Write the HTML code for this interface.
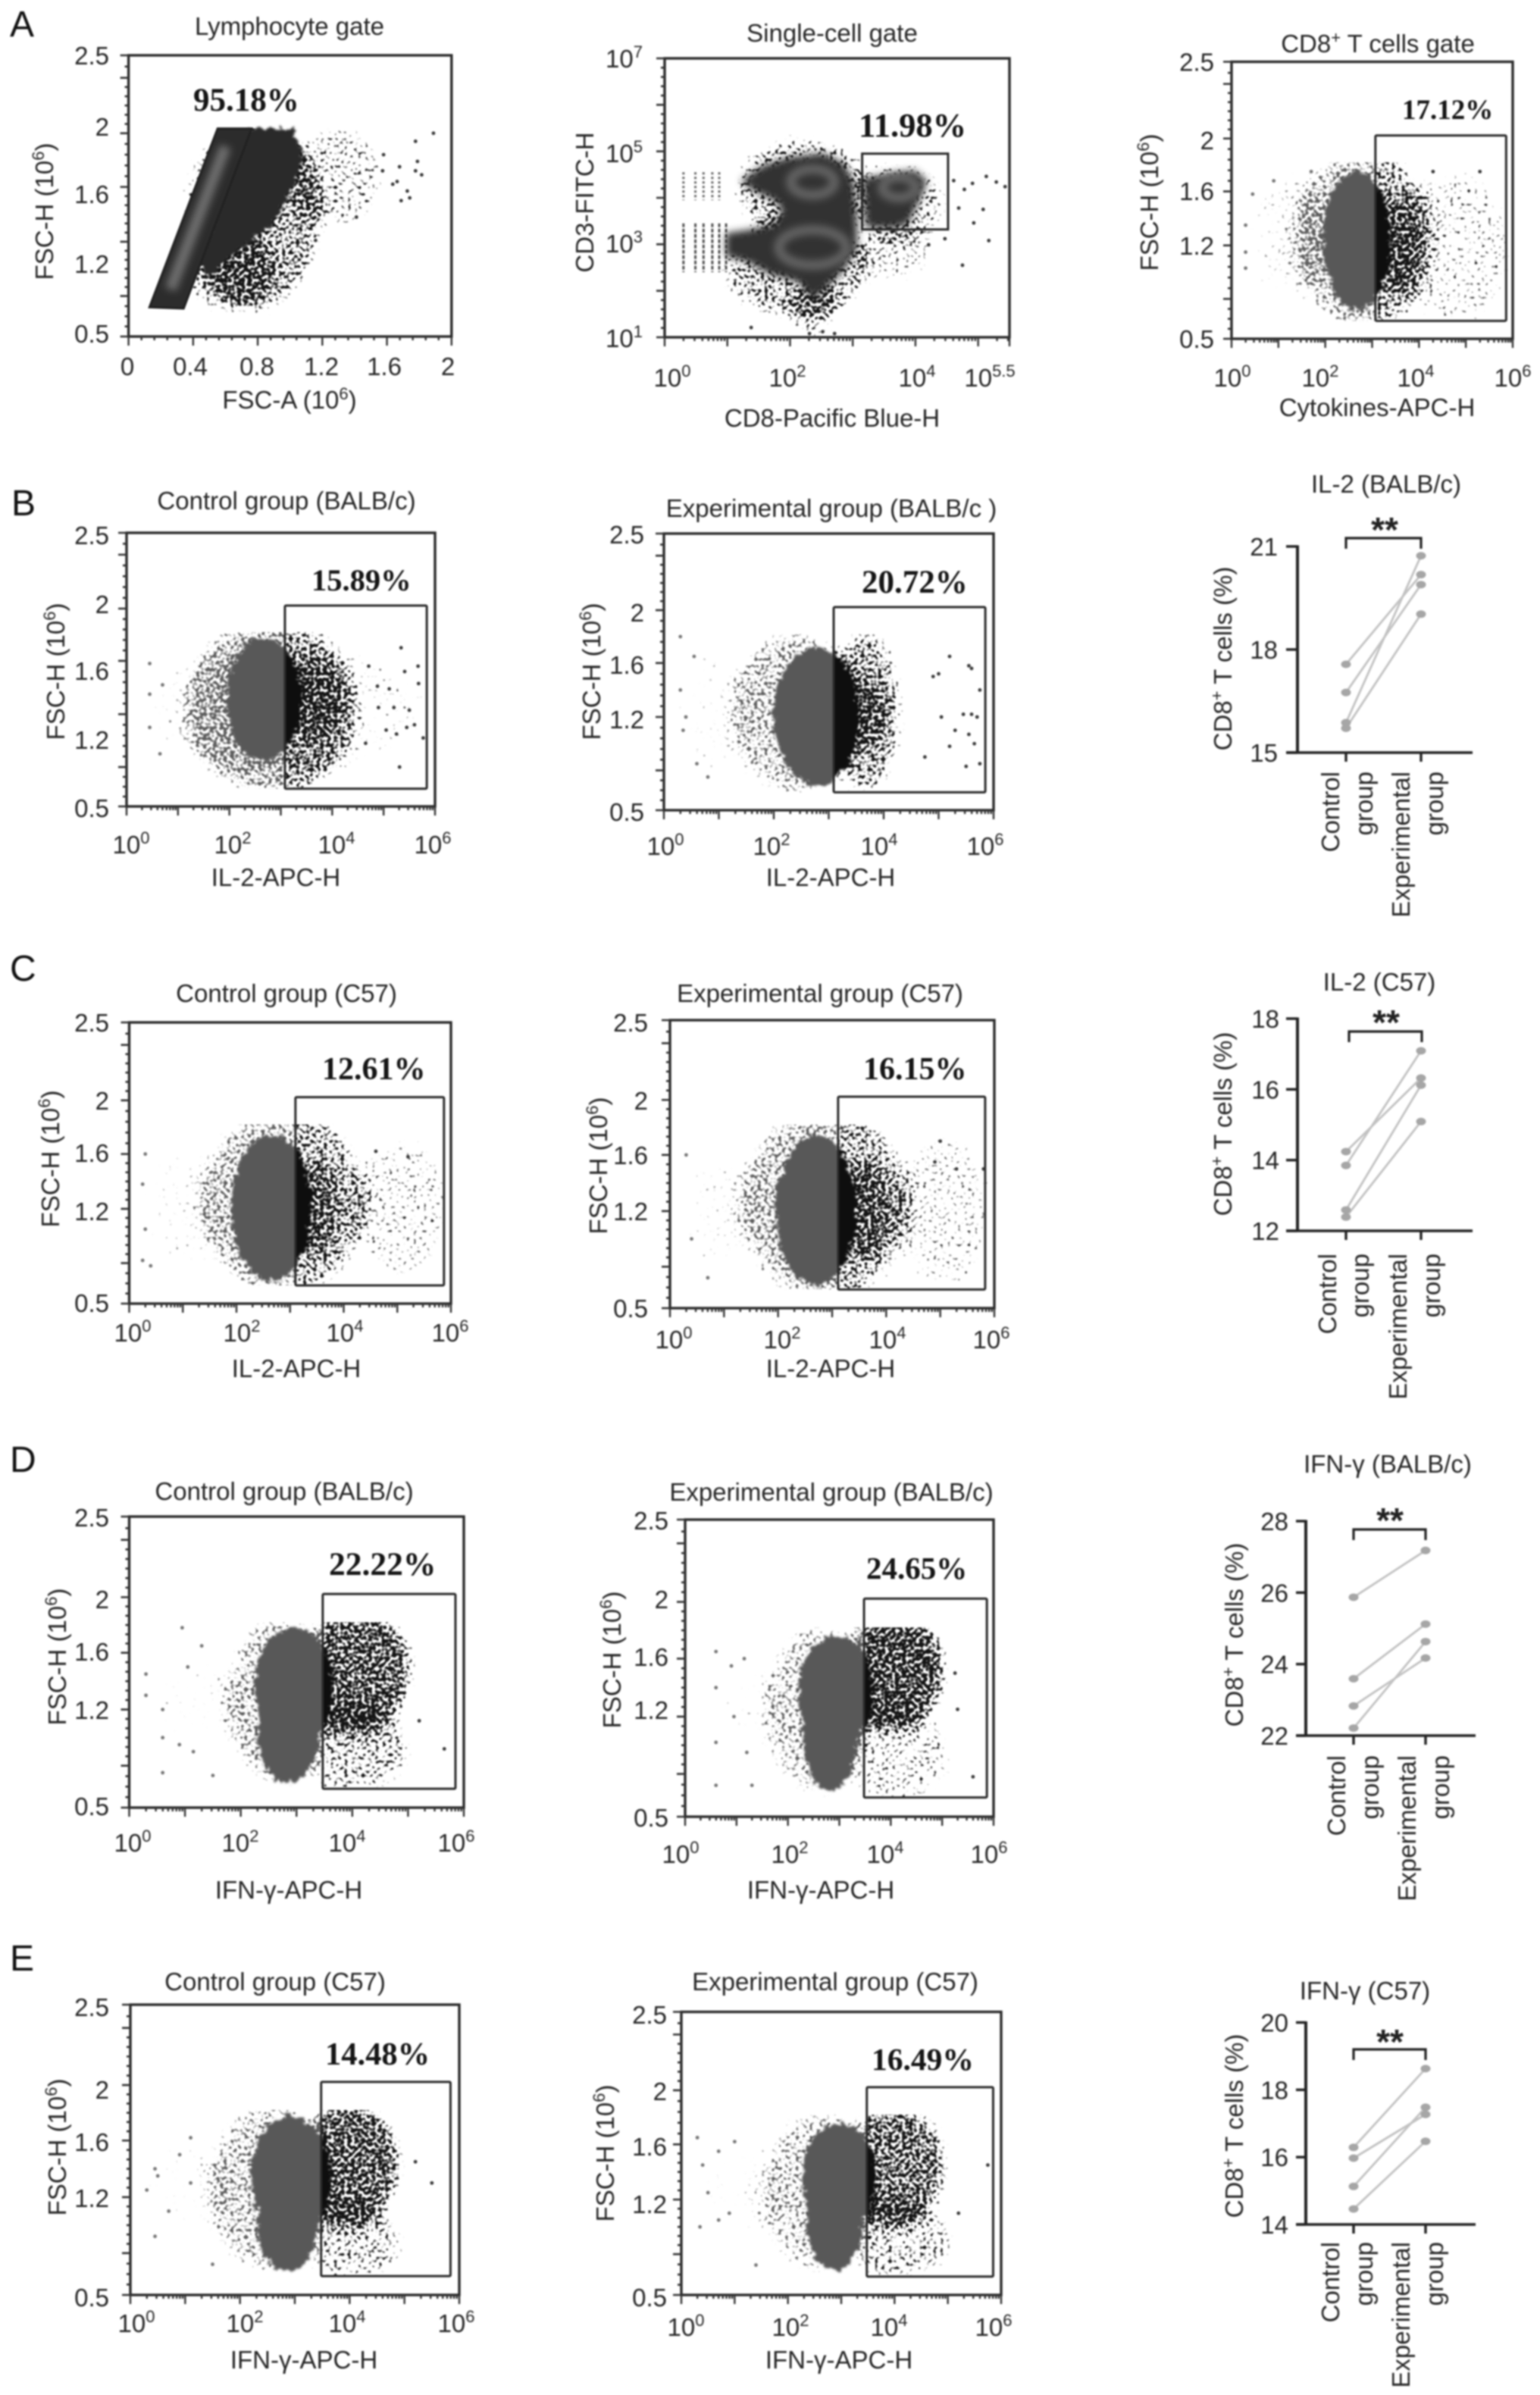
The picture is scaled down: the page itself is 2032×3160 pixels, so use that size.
<!DOCTYPE html>
<html lang="en">
<head>
<meta charset="utf-8">
<title>CD8+ T cell flow cytometry panels</title>
<style>
html,body{margin:0;padding:0;background:#fff;}
svg{display:block;}
text{font-family:"Liberation Sans",sans-serif;font-size:33px;fill:#262626;}
.letter{font-size:48px;fill:#111;}
.pct{font-family:"Liberation Serif",serif;font-weight:bold;fill:#151515;}
.mid{text-anchor:middle;}
.endt{text-anchor:end;}
.stars{font-weight:bold;font-size:46px;text-anchor:middle;fill:#222;}
#root{filter:blur(1px);}
</style>
</head>
<body>
<svg xmlns="http://www.w3.org/2000/svg" width="2032" height="3160" viewBox="0 0 2032 3160">
<defs id="defs">
<filter id="speck-gray" x="-25%" y="-25%" width="150%" height="150%" color-interpolation-filters="sRGB">
  <feGaussianBlur in="SourceAlpha" stdDeviation="11" result="d"/>
  <feTurbulence type="fractalNoise" baseFrequency="0.22" numOctaves="1" seed="7" result="t"/>
  <feColorMatrix in="t" type="matrix" values="0 0 0 0 0  0 0 0 0 0  0 0 0 0 0  1 0 0 0 0" result="n"/>
  <feComposite in="d" in2="n" operator="arithmetic" k1="0" k2="0.62" k3="1" k4="-0.88" result="s"/>
  <feComponentTransfer in="s" result="m"><feFuncA type="linear" slope="6"/></feComponentTransfer>
  <feFlood flood-color="#5e5e5e" result="c"/>
  <feComposite in="c" in2="m" operator="in"/>
</filter>
<filter id="speck-black" x="-25%" y="-25%" width="150%" height="150%" color-interpolation-filters="sRGB">
  <feGaussianBlur in="SourceAlpha" stdDeviation="9" result="d"/>
  <feTurbulence type="fractalNoise" baseFrequency="0.22" numOctaves="1" seed="11" result="t"/>
  <feColorMatrix in="t" type="matrix" values="0 0 0 0 0  0 0 0 0 0  0 0 0 0 0  1 0 0 0 0" result="n"/>
  <feComposite in="d" in2="n" operator="arithmetic" k1="0" k2="0.62" k3="1" k4="-0.88" result="s"/>
  <feComponentTransfer in="s" result="m"><feFuncA type="linear" slope="6"/></feComponentTransfer>
  <feFlood flood-color="#141414" result="c"/>
  <feComposite in="c" in2="m" operator="in"/>
</filter>
<filter id="core-soft" x="-20%" y="-20%" width="140%" height="140%" color-interpolation-filters="sRGB">
  <feTurbulence type="fractalNoise" baseFrequency="0.13" numOctaves="2" seed="3" result="w"/>
  <feDisplacementMap in="SourceGraphic" in2="w" scale="16" xChannelSelector="R" yChannelSelector="G" result="r"/>
  <feGaussianBlur in="r" stdDeviation="1.2"/>
</filter>
<filter id="ring-soft" x="-30%" y="-30%" width="160%" height="160%"><feGaussianBlur stdDeviation="5"/></filter>
</defs>
<rect width="2032" height="3160" fill="#fff"/>
<g id="root">

<text class="letter" x="13" y="48">A</text>
<text class="letter" x="15" y="680">B</text>
<text class="letter" x="13" y="1294">C</text>
<text class="letter" x="13" y="1942">D</text>
<text class="letter" x="13" y="2600">E</text>

<!-- Row A -->
<g>
  <g id="a1-marks"></g>
  <text class="mid" x="382" y="46">Lymphocyte gate</text>
  <text class="pct" style="font-size:43px" x="255" y="146">95.18%</text>
  <text class="mid" x="382" y="539">FSC-A (10<tspan font-size="22" dy="-12">6</tspan><tspan dy="12">)</tspan></text>
  <text class="mid" transform="translate(59,279) rotate(-90)" y="11">FSC-H (10<tspan font-size="22" dy="-12">6</tspan><tspan dy="12">)</tspan></text>
</g>
<g>
  <g id="a2-marks"></g>
  <text class="mid" x="1098" y="55">Single-cell gate</text>
  <text class="pct" style="font-size:44.5px" x="1133" y="180">11.98%</text>
  <text class="mid" x="1098" y="563">CD8-Pacific Blue-H</text>
  <text class="mid" transform="translate(772,267) rotate(-90)" y="11">CD3-FITC-H</text>
</g>
<g>
  <g id="a3-marks"></g>
  <text class="mid" x="1818" y="69">CD8<tspan font-size="22" dy="-12">+</tspan><tspan dy="12"> T cells gate</tspan></text>
  <text class="pct" style="font-size:37px" x="1850" y="157">17.12%</text>
  <text class="mid" x="1817" y="549">Cytokines-APC-H</text>
  <text class="mid" transform="translate(1517,267) rotate(-90)" y="11">FSC-H (10<tspan font-size="22" dy="-12">6</tspan><tspan dy="12">)</tspan></text>
</g>

<!-- Row B -->
<g>
  <g id="b1-marks"></g>
  <text class="mid" x="378" y="672">Control group (BALB/c)</text>
  <text class="pct" style="font-size:40.5px" x="411" y="779">15.89%</text>
  <text class="mid" x="364" y="1169">IL-2-APC-H</text>
  <text class="mid" transform="translate(74,886) rotate(-90)" y="11">FSC-H (10<tspan font-size="22" dy="-12">6</tspan><tspan dy="12">)</tspan></text>
</g>
<g>
  <g id="b2-marks"></g>
  <text class="mid" x="1097" y="682">Experimental group (BALB/c )</text>
  <text class="pct" style="font-size:43px" x="1137" y="782">20.72%</text>
  <text class="mid" x="1096" y="1169">IL-2-APC-H</text>
  <text class="mid" transform="translate(781,886) rotate(-90)" y="11">FSC-H (10<tspan font-size="22" dy="-12">6</tspan><tspan dy="12">)</tspan></text>
</g>

<!-- Row C -->
<g>
  <g id="c1-marks"></g>
  <text class="mid" x="378" y="1322">Control group (C57)</text>
  <text class="pct" style="font-size:42px" x="425" y="1424">12.61%</text>
  <text class="mid" x="391" y="1817">IL-2-APC-H</text>
  <text class="mid" transform="translate(67,1529) rotate(-90)" y="11">FSC-H (10<tspan font-size="22" dy="-12">6</tspan><tspan dy="12">)</tspan></text>
</g>
<g>
  <g id="c2-marks"></g>
  <text class="mid" x="1082" y="1322">Experimental group (C57)</text>
  <text class="pct" style="font-size:42px" x="1139" y="1424">16.15%</text>
  <text class="mid" x="1096" y="1817">IL-2-APC-H</text>
  <text class="mid" transform="translate(790,1538) rotate(-90)" y="11">FSC-H (10<tspan font-size="22" dy="-12">6</tspan><tspan dy="12">)</tspan></text>
</g>

<!-- Row D -->
<g>
  <g id="d1-marks"></g>
  <text class="mid" x="375" y="1979">Control group (BALB/c)</text>
  <text class="pct" style="font-size:43.5px" x="434" y="2078">22.22%</text>
  <text class="mid" x="381" y="2505">IFN-γ-APC-H</text>
  <text class="mid" transform="translate(76,2186) rotate(-90)" y="11">FSC-H (10<tspan font-size="22" dy="-12">6</tspan><tspan dy="12">)</tspan></text>
</g>
<g>
  <g id="d2-marks"></g>
  <text class="mid" x="1097" y="1980">Experimental group (BALB/c)</text>
  <text class="pct" style="font-size:41px" x="1143" y="2083">24.65%</text>
  <text class="mid" x="1083" y="2505">IFN-γ-APC-H</text>
  <text class="mid" transform="translate(808,2190) rotate(-90)" y="11">FSC-H (10<tspan font-size="22" dy="-12">6</tspan><tspan dy="12">)</tspan></text>
</g>

<!-- Row E -->
<g>
  <g id="e1-marks"></g>
  <text class="mid" x="363" y="2626">Control group (C57)</text>
  <text class="pct" style="font-size:42.5px" x="429" y="2724">14.48%</text>
  <text class="mid" x="401" y="3125">IFN-γ-APC-H</text>
  <text class="mid" transform="translate(76,2833) rotate(-90)" y="11">FSC-H (10<tspan font-size="22" dy="-12">6</tspan><tspan dy="12">)</tspan></text>
</g>
<g>
  <g id="e2-marks"></g>
  <text class="mid" x="1102" y="2626">Experimental group (C57)</text>
  <text class="pct" style="font-size:41.5px" x="1150" y="2731">16.49%</text>
  <text class="mid" x="1107" y="3125">IFN-γ-APC-H</text>
  <text class="mid" transform="translate(799,2841) rotate(-90)" y="11">FSC-H (10<tspan font-size="22" dy="-12">6</tspan><tspan dy="12">)</tspan></text>
</g>

<!-- Paired charts -->
<g>
  <g id="lb-marks"></g>
  <text class="mid" x="1829" y="650">IL-2 (BALB/c)</text>
  <text class="stars" x="1827" y="715">**</text>
  <text class="mid" transform="translate(1614,869) rotate(-90)" y="11">CD8<tspan font-size="22" dy="-12">+</tspan><tspan dy="12"> T cells (%)</tspan></text>
  <text class="endt" transform="translate(1756,1018) rotate(-90)" y="11">Control</text>
  <text class="endt" transform="translate(1803,1018) rotate(-90)" y="8">group</text>
  <text class="endt" transform="translate(1849,1018) rotate(-90)" y="11">Experimental</text>
  <text class="endt" transform="translate(1896,1018) rotate(-90)" y="8">group</text>
</g>
<g>
  <g id="lc-marks"></g>
  <text class="mid" x="1820" y="1307">IL-2 (C57)</text>
  <text class="stars" x="1829" y="1365">**</text>
  <text class="mid" transform="translate(1614,1483) rotate(-90)" y="11">CD8<tspan font-size="22" dy="-12">+</tspan><tspan dy="12"> T cells (%)</tspan></text>
  <text class="endt" transform="translate(1752,1654) rotate(-90)" y="11">Control</text>
  <text class="endt" transform="translate(1798,1654) rotate(-90)" y="8">group</text>
  <text class="endt" transform="translate(1845,1654) rotate(-90)" y="11">Experimental</text>
  <text class="endt" transform="translate(1892,1654) rotate(-90)" y="8">group</text>
</g>
<g>
  <g id="ld-marks"></g>
  <text class="mid" x="1831" y="1943">IFN-γ (BALB/c)</text>
  <text class="stars" x="1834" y="2022">**</text>
  <text class="mid" transform="translate(1629,2157) rotate(-90)" y="11">CD8<tspan font-size="22" dy="-12">+</tspan><tspan dy="12"> T cells (%)</tspan></text>
  <text class="endt" transform="translate(1764,2316) rotate(-90)" y="11">Control</text>
  <text class="endt" transform="translate(1811,2316) rotate(-90)" y="8">group</text>
  <text class="endt" transform="translate(1857,2316) rotate(-90)" y="11">Experimental</text>
  <text class="endt" transform="translate(1904,2316) rotate(-90)" y="8">group</text>
</g>
<g>
  <g id="le-marks"></g>
  <text class="mid" x="1801" y="2638">IFN-γ (C57)</text>
  <text class="stars" x="1834" y="2710">**</text>
  <text class="mid" transform="translate(1629,2805) rotate(-90)" y="11">CD8<tspan font-size="22" dy="-12">+</tspan><tspan dy="12"> T cells (%)</tspan></text>
  <text class="endt" transform="translate(1756,2958) rotate(-90)" y="11">Control</text>
  <text class="endt" transform="translate(1803,2958) rotate(-90)" y="8">group</text>
  <text class="endt" transform="translate(1849,2958) rotate(-90)" y="11">Experimental</text>
  <text class="endt" transform="translate(1896,2958) rotate(-90)" y="8">group</text>
</g>
</g>
</svg>

<script>
/* ---------- axis data ---------- */
const fscTickValues = [2.5, 2, 1.6, 1.2, 0.5];
const fscAxisKnots = [2.5, 2, 1.6, 1.2, 0.8, 0.5];
const decadeTickLabels = [0, 2, 4, 6];
const fscLinearTicks = [0, 0.4, 0.8, 1.2, 1.6, 2];
const cd3DecadeLabels = [7, 5, 3, 1];
const cd8DecadeLabels = ['0', '2', '4', '5.5'];

/* ---------- flow populations: density ellipses [xLo, xHi, yLo, yHi, density] ---------- */
const a1Cloud = [[0.35,1.2,0.68,2.1,0.66],[1.0,1.58,1.3,2.05,0.5],[0.35,0.9,0.68,1.3,0.55]];
const a1Events = [[1.888,2.0],[1.777,1.94],[1.789,1.79],[1.777,1.72],[1.815,1.69],[1.678,1.75],[1.579,1.84],[1.573,1.72],[1.663,1.64],[1.636,1.62],[1.726,1.57],[1.741,1.52],[1.688,1.5],[1.411,1.38],[1.158,1.21],[0.815,0.82]];
const a1GatePolygon = [[0.13,0.717],[0.552,2.03],[0.762,2.03],[0.341,0.708]];
const a1DensePolygon = [[0.44,1.09],[0.5,1.26],[0.66,1.78],[0.74,2.03],[1.015,2.03],[1.088,1.82],[1.015,1.58],[0.888,1.33],[0.762,1.2],[0.636,1.11],[0.488,0.92]];
const a1Ridge = [[0.26,0.85],[0.6,1.9]];

const a2Cloud = [[1.1,3.3,3.1,5.3,0.62],[0.9,3.3,1.4,3.6,0.62],[3.0,4.5,3.0,4.8,0.56],[2.0,2.8,0.95,2.2,0.52],[3.0,4.3,2.2,3.4,0.46]];
const a2Events = [[4.61,4.37],[4.78,4.18],[4.91,4.31],[5.13,4.46],[5.29,4.34],[5.43,4.24],[4.69,3.78],[5.08,3.75],[4.93,3.46],[4.47,3.12],[5.17,3.08],[4.75,2.55],[4.21,2.99],[1.38,1.21],[2.52,1.12],[2.71,1.08],[2.31,1.08]];
const a2LeftPolygon = [[0.977,3.24],[1.33,3.31],[1.764,3.43],[1.873,3.74],[1.764,3.93],[1.384,4.18],[1.221,4.37],[1.547,4.68],[1.98,4.87],[2.52,4.96],[2.85,4.75],[3.01,4.37],[3.07,3.49],[3.07,2.93],[2.85,2.43],[2.52,1.99],[2.36,1.8],[2.14,2.18],[1.656,2.37],[1.33,2.62],[0.977,2.74]];
const a2RightPolygon = [[3.165,4.43],[3.556,4.5],[3.99,4.59],[4.18,4.37],[4.1,4.06],[3.88,3.43],[3.61,3.34],[3.2,3.37]];
const a2Rings = [[2.36,4.34,0.35,0.28],[2.36,2.93,0.54,0.38],[3.74,4.22,0.27,0.22]];
const a2LowColumns = [0.3,0.49,0.62,0.76,0.87,0.98];
const a2HighColumns = [0.3,0.49,0.62,0.76,0.87];
const a2Gate = [3.15,4.52,3.32,4.95];

const a3Core = [[1.95,3.4,0.72,1.75]];
const a3Cloud = [[1.3,4.3,0.55,1.95,0.64],[3.5,6.0,0.6,1.75,0.42],[0.4,2.0,0.8,1.75,0.36],[3.1,3.9,0.8,1.6,0.5]];
const a3Events = [[0.3,1.35],[0.3,1.15],[0.3,1.03],[0.45,1.58],[0.9,1.68],[1.7,1.75],[5.3,1.75],[4.3,1.75]];
const a3GateX = [3.07,5.86];

const b1Core = [[1.95,3.4,0.85,1.78]];
const b1Cloud = [[0.3,5.9,0.73,1.72,0.3],[1.1,4.5,0.55,1.95,0.64],[3.05,4.2,1.0,1.6,0.5]];
const b1Events = [[5.34,1.7],[5.67,1.56],[5.68,1.43],[5.41,1.52],[5.11,1.39],[4.71,1.56],[4.88,1.41],[5.5,1.23],[5.31,0.8],[5.77,1.02],[4.65,0.98],[5.2,1.25],[5.45,1.1],[5.6,1.12],[5.05,1.08],[4.9,1.25],[5.25,1.05],[0.45,1.58],[0.45,1.35],[0.45,1.1],[0.65,0.9],[0.7,1.42]];
const b1GateX = [3.08,5.84];

const b2Core = [[2.0,3.55,0.69,1.72]];
const b2Cloud = [[1.2,3.6,0.6,1.85,0.62],[3.0,4.35,0.62,1.85,0.66],[0.3,1.5,0.75,1.75,0.3],[3.1,4.1,0.95,1.5,0.5]];
const b2Events = [[5.2,1.65],[5.55,1.58],[5.6,1.56],[4.9,1.5],[5.0,1.52],[5.75,1.4],[5.05,1.2],[5.45,1.22],[5.6,1.22],[5.7,1.2],[5.3,1.1],[5.55,1.07],[5.65,1.0],[5.2,0.98],[4.75,0.9],[5.5,0.83],[5.75,0.85],[0.3,1.8],[0.55,1.65],[0.3,1.4],[0.4,1.2],[0.35,1.1],[0.6,0.85],[0.8,0.75]];
const b2GateX = [3.09,5.85];

const c1Core = [[1.9,3.4,0.67,1.74]];
const c1Cloud = [[1.27,4.44,0.55,1.95,0.64],[4.2,5.95,0.7,1.72,0.44],[0.3,1.6,0.75,1.65,0.3],[3.1,3.9,0.85,1.55,0.5]];
const c1Events = [[0.3,1.6],[0.25,1.38],[0.3,1.05],[0.25,0.82],[0.4,0.78],[5.2,1.58],[4.6,1.62]];
const c1GateX = [3.1,5.87];

const c2Core = [[1.95,3.45,0.67,1.74]];
const c2Cloud = [[1.25,4.46,0.55,1.95,0.64],[4.2,5.95,0.65,1.75,0.42],[0.3,1.5,0.75,1.65,0.32],[3.1,4.1,0.85,1.55,0.54]];
const c2Events = [[0.3,1.6],[0.4,1.0],[0.7,0.72],[5.0,1.7],[4.9,1.55],[5.3,1.5],[5.8,1.5]];
const c2GateX = [3.11,5.83];

const d1Core = [[2.25,3.65,0.95,1.78],[2.3,3.4,0.68,1.4]];
const d1Cloud = [[1.7,3.6,0.65,1.88,0.6],[3.0,5.1,1.02,1.95,0.8],[3.0,5.05,0.6,1.25,0.56],[0.3,2.0,0.95,1.55,0.28]];
const d1Events = [[0.95,1.78],[1.3,1.65],[1.05,1.5],[0.3,1.45],[0.3,1.3],[0.6,1.2],[0.6,1.0],[0.9,0.95],[1.15,0.9],[0.6,0.75],[1.5,0.73],[5.65,0.92],[5.2,1.12]];
const d1GateX = [3.47,5.85];

const d2Core = [[2.2,3.65,0.98,1.76],[2.3,3.35,0.68,1.45]];
const d2Cloud = [[1.5,3.6,0.65,1.85,0.58],[3.0,5.1,1.1,1.95,0.84],[3.0,5.2,0.6,1.25,0.48],[0.5,1.8,0.95,1.55,0.26]];
const d2Events = [[0.6,1.65],[1.15,1.6],[0.6,1.4],[0.9,1.55],[0.95,1.2],[0.6,1.02],[1.2,0.95],[0.6,0.72],[1.3,0.72],[5.6,0.78],[5.3,1.25],[5.25,1.5]];
const d2GateX = [3.48,5.87];

const e1Core = [[2.2,3.65,0.9,1.78],[2.3,3.4,0.67,1.35]];
const e1Cloud = [[1.4,3.6,0.65,1.88,0.6],[3.0,4.95,0.98,1.9,0.8],[3.0,5.0,0.6,1.15,0.54],[0.3,1.8,0.9,1.6,0.28]];
const e1Events = [[0.45,1.4],[0.5,1.35],[1.1,1.62],[0.3,1.25],[0.9,1.5],[1.1,1.3],[0.7,1.1],[0.45,0.92],[1.5,0.72],[5.5,1.3],[5.2,1.45]];
const e1GateX = [3.48,5.84];

const e2Core = [[2.27,3.65,0.95,1.76],[2.35,3.4,0.68,1.4]];
const e2Cloud = [[1.5,3.6,0.65,1.88,0.58],[3.0,5.0,1.0,1.9,0.76],[3.0,5.1,0.6,1.2,0.54],[0.4,1.8,0.9,1.6,0.28]];
const e2Events = [[0.3,1.65],[0.7,1.55],[1.0,1.62],[0.4,1.45],[0.5,1.25],[0.7,1.05],[0.35,1.0],[0.9,1.1],[1.4,0.72],[5.75,1.45],[5.2,1.1]];
const e2GateX = [3.48,5.85];

/* ---------- paired chart data ---------- */
const il2BalbTicks = [21, 18, 15];
const il2BalbControl = [17.57, 16.75, 15.87, 15.71];
const il2BalbExperimental = [20.18, 19.89, 20.73, 19.03];
const il2C57Ticks = [18, 16, 14, 12];
const il2C57Control = [14.24, 13.85, 12.59, 12.39];
const il2C57Experimental = [16.32, 17.09, 16.12, 15.09];
const ifnBalbTicks = [28, 26, 24, 22];
const ifnBalbControl = [25.87, 23.59, 22.83, 22.21];
const ifnBalbExperimental = [27.18, 25.12, 24.17, 24.63];
const ifnC57Ticks = [20, 18, 16, 14];
const ifnC57Control = [16.29, 15.97, 15.13, 14.46];
const ifnC57Experimental = [18.63, 17.27, 17.48, 16.47];

/* ---------- layout (pixels, not data) ---------- */
const fscKnotFractions = [0, 0.277, 0.468, 0.663, 0.856, 1];
const fscMajorFractions = [0, 0.08, 0.277, 0.468, 0.663, 0.856, 1];
const layoutA1 = {x0:169.6,x1:595.8,y0:73,y1:444,xMax:2,labelsY:[73,167,256,348,440],labelRight:144,labelsX:[168,251,339,424,507,591],labelXY:483};
const layoutA2 = {x0:877,x1:1332,y0:77,y1:445,xMax:5.5,labelsY:[77,202,321,446],labelRight:848,labelsX:[887,1039,1210,1306],labelXY:498};
const layoutA3 = {x0:1625,x1:1996,y0:81.5,y1:447,xMax:6,labelsY:[81.5,185,252,324,447],labelRight:1602,labelsX:[1626,1742,1868,1996],labelXY:498};
const layoutB1 = {x0:167,x1:574,y0:703,y1:1064,xMax:6,labelsY:[706,797,885,976,1066],labelRight:144,labelsX:[173,307,444,571],labelXY:1114};
const layoutB2 = {x0:876,x1:1311,y0:704,y1:1069,xMax:6,labelsY:[705,808,877,949,1071],labelRight:850,labelsX:[878,1018,1160,1300],labelXY:1116};
const layoutC1 = {x0:170.5,x1:595,y0:1349,y1:1720,xMax:6,labelsY:[1349,1452,1521,1598,1719],labelRight:144,labelsX:[175,319,455,594],labelXY:1758};
const layoutC2 = {x0:884,x1:1312,y0:1346,y1:1726,xMax:6,labelsY:[1349,1452,1524,1598,1726],labelRight:855,labelsX:[889,1032,1171,1308],labelXY:1767};
const layoutD1 = {x0:170.5,x1:612,y0:2001,y1:2385,xMax:6,labelsY:[2002,2110,2179,2256,2383],labelRight:144,labelsX:[175,317,458,602],labelXY:2431};
const layoutD2 = {x0:904,x1:1311,y0:2005,y1:2397,xMax:6,labelsY:[2006,2110,2186,2256,2398],labelRight:882,labelsX:[898,1042,1168,1305],labelXY:2446};
const layoutE1 = {x0:172,x1:606,y0:2645,y1:3028,xMax:6,labelsY:[2648,2757,2826,2900,3031],labelRight:144,labelsX:[180,323,458,602],labelXY:3065};
const layoutE2 = {x0:899,x1:1321,y0:2654.5,y1:3028,xMax:6,labelsY:[2658,2759,2832,2908,3031],labelRight:880,labelsX:[905,1043,1173,1311],labelXY:3070};
const layoutLB = {axisX:1712,yTopPx:721,yBottomPx:993,leftPx:1697,rightPx:1943,xA:1776,xB:1875,bracketY:710,bracketDrop:14,bracketA:1776,bracketB:1875,labelRight:1686};
const layoutLC = {axisX:1712,yTopPx:1344,yBottomPx:1624,leftPx:1697,rightPx:1943,xA:1776,xB:1875,bracketY:1361,bracketDrop:14,bracketA:1780,bracketB:1876,labelRight:1688};
const layoutLD = {axisX:1723,yTopPx:2007,yBottomPx:2290,leftPx:1710,rightPx:1947,xA:1786,xB:1881,bracketY:2018,bracketDrop:14,bracketA:1786,bracketB:1881,labelRight:1700};
const layoutLE = {axisX:1723,yTopPx:2668.5,yBottomPx:2935,leftPx:1710,rightPx:1947,xA:1786,xB:1881,bracketY:2704,bracketDrop:14,bracketA:1786,bracketB:1881,labelRight:1700};

/* ---------- helpers ---------- */
const NS = 'http://www.w3.org/2000/svg';
function mk(tag, attrs, parent) {
  const el = document.createElementNS(NS, tag);
  for (const k in attrs) el.setAttribute(k, attrs[k]);
  if (parent) parent.appendChild(el);
  return el;
}
function xOf(f, v) { return f.x0 + v / f.xMax * (f.x1 - f.x0); }
function fscY(f, v) {
  let i = 0;
  while (i < fscAxisKnots.length - 2 && v < fscAxisKnots[i + 1]) i++;
  const t = (fscAxisKnots[i] - v) / (fscAxisKnots[i] - fscAxisKnots[i + 1]);
  const frac = fscKnotFractions[i] + t * (fscKnotFractions[i + 1] - fscKnotFractions[i]);
  return f.y0 + frac * (f.y1 - f.y0);
}
function decadeY(f, v) { return f.y0 + (7 - v) / 6 * (f.y1 - f.y0); }

function addEllipses(parent, f, yOf, list, fill) {
  list.forEach(function (e) {
    const xa = xOf(f, e[0]), xb = xOf(f, e[1]), ya = yOf(f, e[3]), yb = yOf(f, e[2]);
    const el = mk('ellipse', {cx:(xa+xb)/2, cy:(ya+yb)/2, rx:(xb-xa)/2, ry:(yb-ya)/2, fill:fill, 'fill-opacity': e.length > 4 ? e[4] : 1}, parent);
    
    
  });
}
function addEvents(parent, f, yOf, list, gateLo) {
  list.forEach(function (p) {
    const el = mk('circle', {cx:xOf(f,p[0]), cy:yOf(f,p[1]), r:2.4, fill: p[0] >= gateLo ? '#3a3a3a' : '#777'}, parent);
    
    
  });
}
function polyPoints(f, yOf, list) {
  return list.map(function (p) { return xOf(f,p[0]) + ',' + yOf(f,p[1]); }).join(' ');
}
function addFrame(parent, f) {
  const el = mk('rect', {x:f.x0, y:f.y0, width:f.x1-f.x0, height:f.y1-f.y0, fill:'none', stroke:'#2b2b2b', 'stroke-width':3.4}, parent);
  
  
}
function addYTicks(parent, f, majors) {
  const h = f.y1 - f.y0;
  let d = '';
  majors.forEach(function (m, i) {
    const y = f.y0 + m * h;
    d += 'M' + f.x0 + ' ' + y + 'h-11';
    if (i < majors.length - 1) {
      const len = (majors[i+1] - m) * h;
      const n = Math.max(1, Math.round(len / 13));
      for (let k = 1; k < n; k++) d += 'M' + f.x0 + ' ' + (y + len * k / n) + 'h-5';
    }
  });
  const el = mk('path', {d:d, stroke:'#333', 'stroke-width':2.6, fill:'none'}, parent);
  
  
}
function addXTicksLog(parent, f) {
  let d = '';
  for (let v = 0; v <= f.xMax + 0.001; v++) {
    d += 'M' + xOf(f, v) + ' ' + f.y1 + 'v12';
    for (let s = 2; s < 10; s++) {
      const m = v + Math.log10(s);
      if (m < f.xMax) d += 'M' + xOf(f, m) + ' ' + f.y1 + 'v5';
    }
  }
  d += 'M' + f.x1 + ' ' + f.y1 + 'v12';
  const el = mk('path', {d:d, stroke:'#333', 'stroke-width':2.4, fill:'none'}, parent);
  
  
}
function addXTicksLinear(parent, f) {
  let d = '';
  fscLinearTicks.forEach(function (v) {
    d += 'M' + xOf(f, v) + ' ' + f.y1 + 'v12';
    if (v < 2) for (let k = 1; k < 5; k++) d += 'M' + xOf(f, v + 0.08 * k) + ' ' + f.y1 + 'v5';
  });
  const el = mk('path', {d:d, stroke:'#333', 'stroke-width':2.4, fill:'none'}, parent);
  
  
}
function addLabel(parent, x, y, anchor, txt, sup) {
  const el = mk('text', {x:x, y:y + 12, 'text-anchor':anchor}, parent);
  el.textContent = txt;
  if (sup !== undefined) {
    const s = mk('tspan', {'font-size':22, dy:-13}, el);
    s.textContent = sup;
  }
  
  
  return el;
}
function addClip(id, x, y, w, h) {
  const c = mk('clipPath', {id:id}, document.getElementById('defs'));
  mk('rect', {x:x, y:y, width:w, height:h}, c);
}
function addGateRect(parent, f, yOf, xa, xb, ya, yb) {
  const el = mk('rect', {x:xOf(f,xa), y:yOf(f,yb), width:xOf(f,xb)-xOf(f,xa), height:yOf(f,ya)-yOf(f,yb), fill:'none', stroke:'#2b2b2b', 'stroke-width':3, rx:1.5}, parent);
  
  
}

/* ---------- standard FSC vs cytokine plot ---------- */
function drawCytokinePlot(id, f, core, cloud, events, gateX) {
  const g = document.getElementById(id + '-marks');
  const gx = xOf(f, gateX[0]);
  const top = fscY(f, 1.82), bottom = fscY(f, 0.635);
  addClip(id + '-left', f.x0 + 2, top, gx - f.x0 - 2, bottom - top);
  addClip(id + '-right', gx, top, f.x1 - gx - 2, bottom - top);

  const sl = mk('g', {'clip-path':'url(#' + id + '-left)'}, g);
  const slf = mk('g', {filter:'url(#speck-gray)'}, sl);
  addEllipses(slf, f, fscY, cloud, '#000');
  const sr = mk('g', {'clip-path':'url(#' + id + '-right)'}, g);
  const srf = mk('g', {filter:'url(#speck-black)'}, sr);
  addEllipses(srf, f, fscY, cloud, '#000');

  const cl = mk('g', {'clip-path':'url(#' + id + '-left)'}, g);
  const clf = mk('g', {filter:'url(#core-soft)'}, cl);
  addEllipses(clf, f, fscY, core, '#585858');
  const cr = mk('g', {'clip-path':'url(#' + id + '-right)'}, g);
  const crf = mk('g', {filter:'url(#core-soft)'}, cr);
  addEllipses(crf, f, fscY, core, '#0e0e0e');

  addEvents(g, f, fscY, events, gateX[0]);
  addGateRect(g, f, fscY, gateX[0], gateX[1], 0.635, 2.02);
  addFrame(g, f);
  addYTicks(g, f, fscMajorFractions);
  addXTicksLog(g, f);
  fscTickValues.forEach(function (v, i) { addLabel(g, f.labelRight, f.labelsY[i], 'end', String(v)); });
  decadeTickLabels.forEach(function (v, i) { addLabel(g, f.labelsX[i], f.labelXY, 'middle', '10', String(v)); });
}

drawCytokinePlot('a3', layoutA3, a3Core, a3Cloud, a3Events, a3GateX);
drawCytokinePlot('b1', layoutB1, b1Core, b1Cloud, b1Events, b1GateX);
drawCytokinePlot('b2', layoutB2, b2Core, b2Cloud, b2Events, b2GateX);
drawCytokinePlot('c1', layoutC1, c1Core, c1Cloud, c1Events, c1GateX);
drawCytokinePlot('c2', layoutC2, c2Core, c2Cloud, c2Events, c2GateX);
drawCytokinePlot('d1', layoutD1, d1Core, d1Cloud, d1Events, d1GateX);
drawCytokinePlot('d2', layoutD2, d2Core, d2Cloud, d2Events, d2GateX);
drawCytokinePlot('e1', layoutE1, e1Core, e1Cloud, e1Events, e1GateX);
drawCytokinePlot('e2', layoutE2, e2Core, e2Cloud, e2Events, e2GateX);

/* ---------- lymphocyte plot ---------- */
(function () {
  const f = layoutA1, g = document.getElementById('a1-marks');
  const topY = fscY(f, 2.03);
  addClip('a1-top', f.x0, topY, f.x1 - f.x0, f.y1 - topY);
  const sc = mk('g', {'clip-path':'url(#a1-top)'}, g);
  const s = mk('g', {filter:'url(#speck-black)'}, sc);
  addEllipses(s, f, fscY, a1Cloud, '#000');
  const blob = mk('polygon', {points:polyPoints(f, fscY, a1DensePolygon), fill:'#2a2a2a', filter:'url(#core-soft)'}, g);
  
  
  const gate = mk('polygon', {points:polyPoints(f, fscY, a1GatePolygon), fill:'#2c2c2c', stroke:'#222', 'stroke-width':3}, g);
  
  
  const ridge = mk('line', {x1:xOf(f,a1Ridge[0][0]), y1:fscY(f,a1Ridge[0][1]), x2:xOf(f,a1Ridge[1][0]), y2:fscY(f,a1Ridge[1][1]), stroke:'#6e6e6e', 'stroke-width':15, filter:'url(#ring-soft)'}, g);
  
  
  addEvents(g, f, fscY, a1Events, -1);
  addFrame(g, f);
  addYTicks(g, f, fscMajorFractions);
  addXTicksLinear(g, f);
  fscTickValues.forEach(function (v, i) { addLabel(g, f.labelRight, f.labelsY[i], 'end', String(v)); });
  fscLinearTicks.forEach(function (v, i) { addLabel(g, f.labelsX[i], f.labelXY, 'middle', String(v)); });
})();

/* ---------- single-cell plot ---------- */
(function () {
  const f = layoutA2, g = document.getElementById('a2-marks');
  const s = mk('g', {filter:'url(#speck-black)'}, g);
  addEllipses(s, f, decadeY, a2Cloud, '#000');
  a2LowColumns.forEach(function (x) {
    const c = mk('line', {x1:xOf(f,x), x2:xOf(f,x), y1:decadeY(f,3.45), y2:decadeY(f,2.4), stroke:'#555', 'stroke-width':3, 'stroke-dasharray':'5 2'}, g);
    
    
  });
  a2HighColumns.forEach(function (x) {
    const c = mk('line', {x1:xOf(f,x), x2:xOf(f,x), y1:decadeY(f,4.55), y2:decadeY(f,3.95), stroke:'#666', 'stroke-width':3, 'stroke-dasharray':'3 3'}, g);
    
    
  });
  [a2LeftPolygon, a2RightPolygon].forEach(function (pts) {
    const p = mk('polygon', {points:polyPoints(f, decadeY, pts), fill:'#303030', filter:'url(#ring-soft)'}, g);
    
    
  });
  const rg = mk('g', {filter:'url(#ring-soft)'}, g);
  a2Rings.forEach(function (r) {
    const e = mk('ellipse', {cx:xOf(f,r[0]), cy:decadeY(f,r[1]), rx:xOf(f,r[2])-f.x0, ry:decadeY(f,0)-decadeY(f,r[3]) , fill:'none', stroke:'#666', 'stroke-width':12}, rg);
    
    
  });
  addEvents(g, f, decadeY, a2Events, -1);
  const gate = mk('rect', {x:xOf(f,a2Gate[0]), y:decadeY(f,a2Gate[3]), width:xOf(f,a2Gate[1])-xOf(f,a2Gate[0]), height:decadeY(f,a2Gate[2])-decadeY(f,a2Gate[3]), fill:'none', stroke:'#2b2b2b', 'stroke-width':3}, g);
  
  
  addFrame(g, f);
  addYTicks(g, f, [0, 1/6, 2/6, 3/6, 4/6, 5/6, 1]);
  addXTicksLog(g, f);
  cd3DecadeLabels.forEach(function (v, i) { addLabel(g, f.labelRight, f.labelsY[i], 'end', '10', String(v)); });
  cd8DecadeLabels.forEach(function (v, i) { addLabel(g, f.labelsX[i], f.labelXY, 'middle', '10', v); });
})();

/* ---------- paired charts ---------- */
function drawPaired(id, l, ticks, control, experimental) {
  const g = document.getElementById(id + '-marks');
  const hi = ticks[0], lo = ticks[ticks.length - 1];
  const yOf = function (v) { return l.yBottomPx - (v - lo) / (hi - lo) * (l.yBottomPx - l.yTopPx); };

  const axisY = mk('line', {x1:l.axisX, x2:l.axisX, y1:l.yTopPx - 1.5, y2:l.yBottomPx + 1.5, stroke:'#222', 'stroke-width':4}, g);
  
  
  const axisX = mk('line', {x1:l.leftPx, x2:l.rightPx, y1:l.yBottomPx, y2:l.yBottomPx, stroke:'#222', 'stroke-width':3.6}, g);
  
  

  ticks.forEach(function (v) {
    const t = mk('line', {x1:l.leftPx, x2:l.axisX, y1:yOf(v), y2:yOf(v), stroke:'#222', 'stroke-width':3.4}, g);
    
    
    addLabel(g, l.labelRight, yOf(v), 'end', String(v));
  });
  [l.xA, l.xB].forEach(function (x) {
    const t = mk('line', {x1:x, x2:x, y1:l.yBottomPx, y2:l.yBottomPx + 12, stroke:'#222', 'stroke-width':3.4}, g);
    
    
  });

  const br = mk('path', {d:'M' + l.bracketA + ' ' + (l.bracketY + l.bracketDrop) + 'V' + l.bracketY + 'H' + l.bracketB + 'V' + (l.bracketY + l.bracketDrop), fill:'none', stroke:'#222', 'stroke-width':3.2}, g);
  
  

  control.forEach(function (v, i) {
    const ln = mk('line', {x1:l.xA, y1:yOf(v), x2:l.xB, y2:yOf(experimental[i]), stroke:'#c2c2c2', 'stroke-width':2.8}, g);
    
    
  });
  control.forEach(function (v, i) {
    const a = mk('ellipse', {cx:l.xA, cy:yOf(v), rx:6.5, ry:5, fill:'#a6a6a6'}, g);
    
    
    const b = mk('ellipse', {cx:l.xB, cy:yOf(experimental[i]), rx:6.5, ry:5, fill:'#a6a6a6'}, g);
    
    
  });
}
drawPaired('lb', layoutLB, il2BalbTicks, il2BalbControl, il2BalbExperimental);
drawPaired('lc', layoutLC, il2C57Ticks, il2C57Control, il2C57Experimental);
drawPaired('ld', layoutLD, ifnBalbTicks, ifnBalbControl, ifnBalbExperimental);
drawPaired('le', layoutLE, ifnC57Ticks, ifnC57Control, ifnC57Experimental);
</script>
</body>
</html>
